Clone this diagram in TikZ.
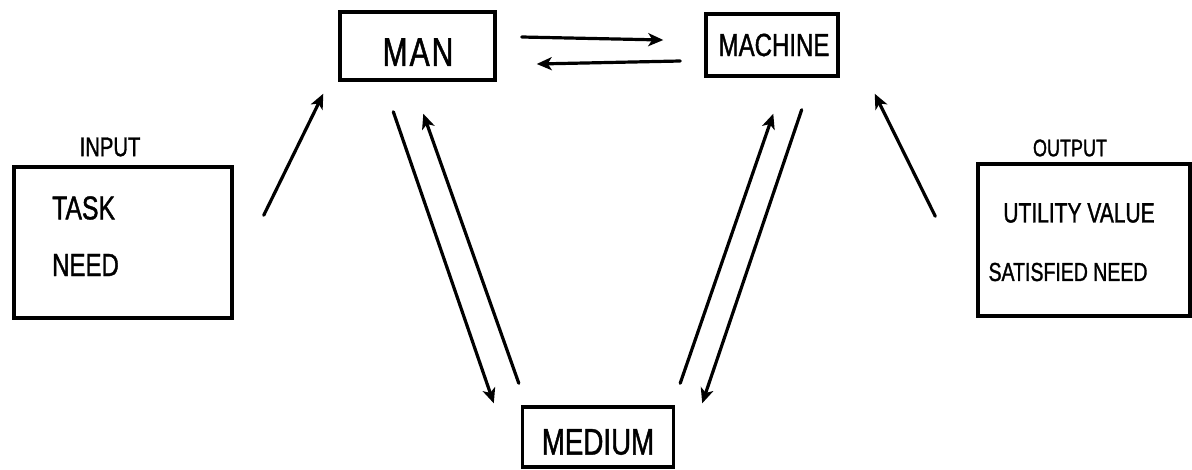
\documentclass[tikz,border=0pt]{standalone}
\usepackage{fontspec}
\usetikzlibrary{arrows.meta,calc}
\newfontfamily\hand[FakeStretch=0.75,FakeBold=1.2]{Liberation Sans}
\tikzset{
  box/.style={draw, line width=3.4pt, inner sep=0pt},
  arr/.style={line width=3.2pt, line cap=round, -{Stealth[length=15pt,width=13pt,inset=4pt]}},
  lbl/.style={font=\hand, inner sep=0pt},
}
\begin{document}
\begin{tikzpicture}[x=1pt,y=-1pt]
  \useasboundingbox (0,0) rectangle (1192,469);
  % the three elements of the system
  \node[box, minimum width=155pt, minimum height=68pt] (man) at (417.5,46) {};
  \node[lbl, font=\hand\fontsize{40}{42}\selectfont] (mantext) at (418,52) {M\kern2pt A\kern2pt N};
  \node[box, minimum width=132pt, minimum height=62pt] (machine) at (772,45) {};
  \node[lbl, font=\hand\fontsize{32}{34}\selectfont] (machinetext) at (774,45) {MACHINE};
  \node[box, minimum width=151pt, minimum height=60pt] (medium) at (598,437) {};
  \node[lbl, font=\hand\fontsize{37}{39}\selectfont] (mediumtext) at (598,442) {MEDIUM};
  % input block
  \node[box, minimum width=218pt, minimum height=151pt] (input) at (123,242.5) {};
  \node[lbl, font=\hand\fontsize{27}{29}\selectfont] (inputlabel) at (110,147) {INPUT};
  \node[lbl, anchor=west, font=\hand\fontsize{33}{35}\selectfont] (task) at (52,208) {TASK};
  \node[lbl, anchor=west, font=\hand\fontsize{32}{34}\selectfont] (need) at (52,265) {NEED};
  % output block
  \node[box, minimum width=212pt, minimum height=152pt] (output) at (1084,240) {};
  \node[lbl, font=\hand\fontsize{24}{26}\selectfont] (outputlabel) at (1070,148) {OUTPUT};
  \node[lbl, font=\hand\fontsize{28}{30}\selectfont] (utility) at (1079,213) {UTILITY VALUE};
  \node[lbl, font=\hand\fontsize{26}{28}\selectfont] (satisfied) at (1068,272) {SATISFIED NEED};
  % man <-> machine
  \draw[arr] ($(man.east)+(25,-9)$) -- ($(machine.west)+(-41,-5)$);
  \draw[arr] ($(machine.west)+(-24,16)$) -- ($(man.east)+(40,18)$);
  % man <-> medium
  \draw[arr] ($(man.south west)+(55,30)$) -- ($(medium.north west)+(-27,-2)$);
  \draw[arr] ($(medium.north west)+(-2,-22)$) -- ($(man.south west)+(85,32)$);
  % machine <-> medium
  \draw[arr] ($(machine.south east)+(-38,32)$) -- ($(medium.north east)+(27,-2)$);
  \draw[arr] ($(medium.north east)+(5,-22)$) -- ($(machine.south west)+(69,36)$);
  % input feeds man, output leaves machine
  \draw[arr] ($(input.north east)+(30,50)$) -- ($(man.south west)+(-15,12)$);
  \draw[arr] ($(output.north west)+(-41,54)$) -- ($(machine.south east)+(35,16)$);
\end{tikzpicture}
\end{document}
